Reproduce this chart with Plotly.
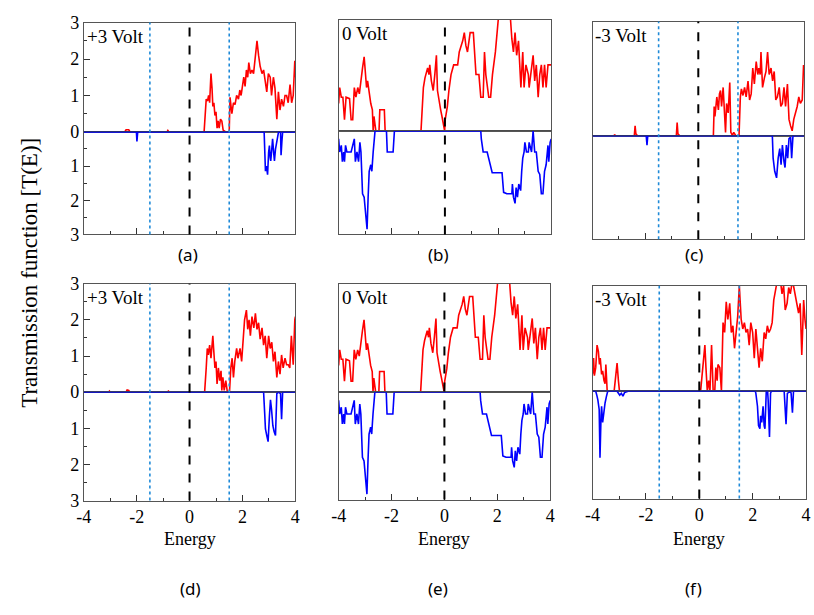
import plotly.graph_objects as go

# ---------------- data (energy, T) pairs ----------------
a_red = [(-4,0),(-2.45,0),(-2.4,0.06),(-2.3,0.06),(-2.25,0),(-0.85,0),(-0.82,0.04),(-0.78,0),(0.55,0),
         (0.6,0.5),(0.63,0.9),(0.68,0.85),(0.72,1.0),(0.76,0.8),(0.81,1.6),(0.85,1.2),(0.88,0.7),(0.92,0.8),
         (0.96,0.45),(1.0,0.55),(1.04,0.1),(1.08,0.3),(1.12,0.1),(1.17,0.35),(1.22,0.3),(1.27,0.05),(1.37,0),
         (1.5,0),(1.53,0.95),(1.6,0.5),(1.66,0.8),(1.72,0.75),(1.78,1.0),(1.85,0.9),(1.9,1.15),(1.95,1.0),
         (2.0,1.3),(2.05,1.5),(2.1,1.25),(2.15,1.7),(2.2,1.5),(2.24,1.9),(2.3,1.6),(2.36,1.7),(2.42,1.6),
         (2.49,2.0),(2.55,2.5),(2.61,2.1),(2.67,1.8),(2.74,1.6),(2.8,1.7),(2.86,1.4),(2.92,1.1),(2.98,1.6),
         (3.05,1.5),(3.1,1.0),(3.17,1.5),(3.23,1.2),(3.3,0.35),(3.36,1.1),(3.42,0.6),(3.48,0.9),(3.55,0.7),
         (3.61,1.0),(3.67,1.0),(3.73,0.8),(3.8,1.3),(3.86,0.8),(3.92,1.0),(3.98,1.95),(4.0,1.5)]
a_blue = [(-4,0),(-2.01,0),(-1.99,0.28),(-1.96,0),(2.82,0),(2.84,0.9),(2.87,1.15),(2.91,1.0),(2.95,1.25),
          (2.99,0.6),(3.02,0.4),(3.05,0.75),(3.07,0.85),(3.11,0.5),(3.14,0.2),(3.18,0.6),(3.21,0.85),
          (3.25,0.5),(3.3,0.3),(3.36,0.02),(3.44,0),(3.46,0.68),(3.49,0.3),(3.52,0),(4,0)]

b_red = [(-4,0.74),(-3.96,1.17),(-3.9,0.91),(-3.84,0.91),(-3.78,0.3),(-3.72,0.91),(-3.59,0.87),(-3.53,0.3),
         (-3.47,0.3),(-3.41,1.17),(-3.35,0.91),(-3.28,1.17),(-3.22,1.0),(-3.16,1.43),(-3.1,1.7),(-3.04,2.0),
         (-3.0,1.52),(-2.95,1.17),(-2.91,1.35),(-2.85,1.0),(-2.79,0.74),(-2.73,0.57),(-2.7,0),(-2.67,0.39),
         (-2.6,0),(-2.48,0),(-2.45,0.57),(-2.28,0.57),(-2.25,0),(-0.9,0),(-0.81,1.17),(-0.75,1.43),
         (-0.65,1.7),(-0.6,1.52),(-0.57,1.78),(-0.51,1.35),(-0.44,1.09),(-0.38,1.52),(-0.32,2.04),
         (-0.28,1.09),(-0.23,0.83),(-0.16,0.57),(-0.11,0.39),(-0.04,0.13),(-0.01,0),(0.01,0.3),(0.09,0.65),
         (0.15,1.09),(0.23,1.52),(0.33,1.78),(0.48,1.78),(0.54,2.13),(0.67,2.43),(0.73,2.65),(0.79,2.3),
         (0.85,2.13),(0.95,2.65),(1.07,2.65),(1.12,2.13),(1.17,1.52),(1.28,1.52),(1.35,0.91),(1.44,0.91),
         (1.49,2.13),(1.54,1.52),(1.59,1.26),(1.65,0.91),(1.72,0.91),(1.79,1.52),(1.9,2.13),(1.96,2.65),
         (2.02,3.1),(2.15,3.3),(2.27,3.0),(2.33,3.1),(2.46,3.1),(2.52,2.48),(2.58,2.13),(2.64,2.65),
         (2.7,2.04),(2.77,2.43),(2.83,1.78),(2.86,1.17),(2.93,2.13),(2.98,1.17),(3.05,1.78),(3.14,1.52),
         (3.17,1.17),(3.26,1.78),(3.32,2.04),(3.38,1.35),(3.44,1.78),(3.51,0.91),(3.57,1.52),(3.63,1.78),
         (3.69,1.17),(3.75,1.78),(3.81,1.17),(3.88,1.78),(4.0,1.78)]
b_blue = [(-4,0.23),(-3.96,0.61),(-3.9,0.42),(-3.86,0.89),(-3.81,0.61),(-3.78,0.89),(-3.74,0.42),(-3.69,0.61),
          (-3.53,0.61),(-3.41,0.23),(-3.37,0.89),(-3.31,0.61),(-3.25,0.89),(-3.2,0.33),(-3.16,0.61),
          (-3.1,1.82),(-3.04,1.92),(-3.0,2.29),(-2.95,2.66),(-2.93,2.85),(-2.89,1.92),(-2.85,1.17),
          (-2.79,0.98),(-2.75,1.17),(-2.7,0.61),(-2.67,0.42),(-2.63,0),(-2.2,0),(-2.17,0.61),(-1.95,0.61),
          (-1.9,0),(1.35,0),(1.37,0.23),(1.44,0.61),(1.59,0.61),(1.78,1.21),(2.15,1.21),(2.21,1.78),
          (2.33,1.82),(2.52,1.82),(2.54,1.54),(2.58,1.92),(2.64,2.1),(2.68,1.64),(2.73,1.92),(2.78,1.54),
          (2.85,1.73),(2.89,1.17),(2.93,0.79),(2.98,0.61),(3.01,0.33),(3.07,0.61),(3.14,0.61),(3.17,0.33),
          (3.26,0.61),(3.32,0),(3.38,0.61),(3.44,0.61),(3.51,1.17),(3.57,1.26),(3.63,1.82),(3.69,1.82),
          (3.75,1.17),(3.81,0.98),(3.88,0.42),(3.91,0.89),(3.96,0.33),(4.0,0.23)]

c_red = [(-4,0),(-3.2,0),(-3.16,0.02),(-3.12,0),(-2.42,0),(-2.39,0.26),(-2.36,0.05),(-2.3,0),(-0.83,0),
         (-0.8,0.35),(-0.77,0.05),(-0.7,0),(0.57,0),(0.6,0.77),(0.63,0.51),(0.7,1.02),(0.76,0.68),(0.8,1.1),
         (0.84,1.19),(0.88,0.77),(0.94,1.27),(0.98,0.51),(1.03,0.09),(1.07,0.85),(1.13,0.6),(1.19,1.4),
         (1.23,0.09),(1.29,0.01),(1.34,0.09),(1.42,0),(1.54,0),(1.59,1.02),(1.63,1.23),(1.69,1.06),
         (1.75,1.27),(1.81,1.02),(1.88,1.44),(1.94,0.94),(2.0,1.1),(2.06,1.78),(2.12,1.36),(2.19,1.95),
         (2.25,1.61),(2.29,1.78),(2.34,1.61),(2.37,2.2),(2.43,1.27),(2.5,1.52),(2.56,1.69),(2.62,2.2),
         (2.68,1.61),(2.75,1.78),(2.81,1.44),(2.87,1.69),(2.93,0.94),(2.99,1.02),(3.06,1.27),(3.12,0.77),
         (3.18,0.85),(3.24,1.27),(3.3,0.77),(3.37,1.36),(3.43,0.43),(3.49,0.26),(3.55,0.13),(3.61,0.43),
         (3.68,0.6),(3.74,0.77),(3.8,1.02),(3.86,0.85),(3.93,0.94),(3.98,1.86),(4.0,1.61)]
c_blue = [(-4,0),(-1.97,0),(-1.94,0.27),(-1.91,0),(2.8,0),(2.83,0.65),(2.89,1.03),(2.96,1.22),(3.02,0.65),
          (3.08,0.37),(3.13,0.84),(3.18,0.27),(3.24,0.75),(3.28,0.92),(3.33,0.27),(3.38,0.65),(3.43,0.08),
          (3.49,0.04),(3.53,0.65),(3.58,0),(4,0)]

d_red = [(-4,0),(-3.06,0),(-3.03,0.03),(-3.0,0),(-2.4,0),(-2.36,0.06),(-2.3,0.05),(-2.26,0),(-0.84,0),
         (-0.8,0.03),(-0.76,0),(0.57,0),(0.63,0.67),(0.67,1.21),(0.71,1.03),(0.76,1.3),(0.81,0.94),
         (0.88,1.56),(0.91,1.21),(0.96,0.67),(1.0,0.85),(1.04,0.23),(1.09,0.67),(1.14,0.32),(1.19,0.59),
         (1.22,0.05),(1.26,0.41),(1.31,0.05),(1.37,0.32),(1.43,0),(1.51,0),(1.56,0.67),(1.61,0.94),
         (1.66,0.41),(1.71,0.85),(1.78,1.21),(1.83,0.94),(1.91,1.21),(1.97,0.85),(2.03,1.56),(2.08,2.0),
         (2.15,2.27),(2.2,1.74),(2.25,2.0),(2.3,1.56),(2.36,2.09),(2.43,1.78),(2.49,2.18),(2.55,1.74),
         (2.61,1.92),(2.67,1.47),(2.74,1.78),(2.8,1.3),(2.86,1.56),(2.92,0.94),(2.99,1.56),(3.05,1.21),
         (3.11,1.38),(3.17,0.85),(3.23,1.12),(3.3,0.41),(3.36,0.85),(3.42,0.5),(3.48,1.03),(3.54,0.67),
         (3.61,0.94),(3.67,0.76),(3.73,0.76),(3.79,0.67),(3.85,1.56),(3.92,0.76),(3.98,2.0),(4.0,2.09)]
d_blue = [(-4,0),(2.8,0),(2.84,0.57),(2.87,1.02),(2.92,1.2),(2.97,1.37),(3.02,0.66),(3.06,0.21),(3.1,0.48),
          (3.15,0.93),(3.2,1.1),(3.25,1.2),(3.3,0.04),(3.36,0),(3.44,0.04),(3.48,0.75),(3.52,0),(4,0)]

e_red = list(b_red)
e_blue = list(b_blue)

f_red = [(-4,0.48),(-3.96,0.94),(-3.93,0.44),(-3.88,0.67),(-3.83,1.31),(-3.78,1.13),(-3.74,0.76),
         (-3.71,0.94),(-3.66,0.48),(-3.62,0.58),(-3.57,0.3),(-3.53,0.21),(-3.5,0.76),(-3.45,0),(-3.19,0),
         (-3.14,0.39),(-3.08,0.8),(-3.03,0.3),(-2.99,0),(0.05,0),(0.09,0.39),(0.15,0.85),(0.21,1.31),
         (0.25,0.67),(0.3,0),(0.35,0.3),(0.4,0),(0.46,1.31),(0.52,0),(0.58,0),(0.62,0.67),(0.67,0.3),
         (0.7,0.76),(0.77,0.67),(0.83,0),(0.89,1.95),(0.95,1.67),(1.01,2.54),(1.07,2.04),(1.14,2.5),
         (1.2,1.67),(1.26,1.86),(1.32,1.22),(1.38,1.67),(1.44,2.13),(1.5,3.0),(1.57,2.04),(1.63,1.77),
         (1.69,1.95),(1.75,1.67),(1.81,1.77),(1.87,1.31),(1.93,1.95),(2.0,1.67),(2.06,0.94),(2.12,1.77),
         (2.18,1.31),(2.24,0.67),(2.3,1.22),(2.36,0.85),(2.43,1.67),(2.49,1.49),(2.55,1.86),(2.61,1.67),
         (2.67,1.77),(2.73,1.95),(2.79,2.59),(2.86,3.0),(2.92,3.14),(3.04,3.14),(3.1,2.77),(3.16,3.0),
         (3.22,2.31),(3.29,2.5),(3.35,2.95),(3.41,2.77),(3.47,3.05),(3.53,3.0),(3.59,2.77),(3.65,2.5),
         (3.72,2.22),(3.78,2.5),(3.84,1.03),(3.87,1.67),(3.91,2.59),(3.96,2.04),(4.0,1.77)]
f_blue = [(-4,0),(-3.88,0),(-3.84,0.11),(-3.8,0.24),(-3.75,0.51),(-3.72,1.86),(-3.68,0.69),(-3.66,0.42),
          (-3.62,0.87),(-3.58,0.6),(-3.53,0.33),(-3.48,0.15),(-3.43,0),(-3.08,0),(-3.04,0.06),(-2.98,0.11),
          (-2.92,0.06),(-2.86,0.14),(-2.8,0.04),(-2.67,0),(2.1,0),(2.12,0.06),(2.18,0.42),(2.22,0.96),
          (2.27,1.05),(2.3,0.69),(2.34,0.87),(2.39,0.42),(2.43,0.96),(2.46,1.05),(2.51,0),(2.56,0),
          (2.58,0.24),(2.63,1.28),(2.67,0.06),(2.7,0),(3.18,0),(3.2,0.24),(3.25,0.92),(3.3,0.06),(3.42,0),
          (3.44,0.06),(3.49,0.6),(3.53,0),(4,0)]

voltage_labels = ["+3 Volt", "0 Volt", "-3 Volt", "+3 Volt", "0 Volt", "-3 Volt"]
panel_letters = ["(a)", "(b)", "(c)", "(d)", "(e)", "(f)"]
fermi_level = 0
bias_window = [-1.5, 1.5]
energy_range = [-4, 4]
t_range = [0, 3]
x_tickvals = [-4, -2, 0, 2, 4]
x_ticktext = ["-4", "-2", "0", "2", "4"]
y_tickvals_up = [0, 1, 2, 3]
y_tickvals_dn = [1, 2, 3]

# ---------------- layout geometry (pixels) ----------------
W, H = 814, 615
# left, right, top, zero, bottom
boxes = [(77, 292, 13, 126, 232), (336, 552, 10, 125, 232), (594, 809, 12, 130, 237),
         (77, 292, 283, 395, 507), (336, 551, 283, 395, 506), (594, 811, 285, 394, 505)]
reds = [a_red, b_red, c_red, d_red, e_red, f_red]
blues = [a_blue, b_blue, c_blue, d_blue, e_blue, f_blue]
has_bias = [True, False, True, True, False, True]
letter_pos = [(183, 253), (437, 253), (697, 253), (185, 598), (437, 598), (697, 598)]

SERIF = "Liberation Serif, Times New Roman, Times, serif"
FRAME = "#555555"

def px2x(p): return p / W
def px2y(p): return 1 - p / H

fig = go.Figure()
layout = dict(width=W, height=H, margin=dict(l=0, r=0, t=0, b=0),
              paper_bgcolor="white", plot_bgcolor="white", showlegend=False)
shapes, annotations = [], []

for i in range(6):
    L, R, T, Z, B = boxes[i]
    u, d = 2 * i + 1, 2 * i + 2
    xu = "x" if u == 1 else f"x{u}"
    yu = "y" if u == 1 else f"y{u}"
    xd, yd = f"x{d}", f"y{d}"
    kxu = "xaxis" if u == 1 else f"xaxis{u}"
    kyu = "yaxis" if u == 1 else f"yaxis{u}"
    kxd, kyd = f"xaxis{d}", f"yaxis{d}"
    left_col = i in (0, 3)
    bottom_row = i >= 3

    rx = [p[0] for p in reds[i]]; ry = [p[1] for p in reds[i]]
    bx = [p[0] for p in blues[i]]; by = [p[1] for p in blues[i]]
    fig.add_trace(go.Scatter(x=rx, y=ry, mode="lines", line=dict(color="#ff0000", width=1.6),
                             xaxis=xu, yaxis=yu))
    fig.add_trace(go.Scatter(x=bx, y=by, mode="lines", line=dict(color="#0000ff", width=1.6),
                             xaxis=xd, yaxis=yd))

    common_x = dict(domain=[px2x(L), px2x(R)], range=energy_range, showgrid=False, zeroline=False,
                    showline=True, mirror=True, linecolor=FRAME, linewidth=1)
    layout[kxu] = dict(common_x, anchor=yu, ticks="", showticklabels=False)
    layout[kxd] = dict(common_x, anchor=yd, ticks="inside", ticklen=6, tickcolor="#333",
                       tickmode="array", tickvals=x_tickvals, ticktext=x_ticktext,
                       showticklabels=bottom_row,
                       tickfont=dict(family=SERIF, size=18, color="black"),
                       minor=dict(ticks="inside", ticklen=3, tickcolor="#333",
                                  tickmode="array", tickvals=[-3, -1, 1, 3]))
    common_y = dict(showgrid=False, zeroline=False, showline=True, mirror=True,
                    linecolor=FRAME, linewidth=1,
                    tickfont=dict(family=SERIF, size=18, color="black"))
    if left_col:
        yt_u = dict(ticks="inside", ticklen=6, tickcolor="#333", tickmode="array",
                    tickvals=y_tickvals_up, showticklabels=True,
                    minor=dict(ticks="inside", ticklen=3, tickcolor="#333", tickmode="array",
                               tickvals=[0.5, 1.5, 2.5]))
        yt_d = dict(ticks="inside", ticklen=6, tickcolor="#333", tickmode="array",
                    tickvals=y_tickvals_dn, showticklabels=True,
                    minor=dict(ticks="inside", ticklen=3, tickcolor="#333", tickmode="array",
                               tickvals=[0.5, 1.5, 2.5]))
    else:
        yt_u = dict(ticks="", showticklabels=False)
        yt_d = dict(ticks="", showticklabels=False)
    layout[kyu] = dict(common_y, domain=[px2y(Z), px2y(T)], range=t_range, anchor=xu, **yt_u)
    layout[kyd] = dict(common_y, domain=[px2y(B), px2y(Z)], range=[t_range[1], t_range[0]],
                       anchor=xd, **yt_d)

    # zero line
    zc = "#1a237e" if has_bias[i] else "#444444"
    shapes.append(dict(type="line", xref=f"{xu} domain", x0=0, x1=1, yref=yu, y0=0, y1=0,
                       line=dict(color=zc, width=1.5 if has_bias[i] else 1)))
    # Fermi level dashed
    shapes.append(dict(type="line", xref=xd, x0=fermi_level, x1=fermi_level, yref="paper",
                       y0=px2y(B), y1=px2y(T), line=dict(color="black", width=2, dash="dash")))
    if has_bias[i]:
        for bw in bias_window:
            shapes.append(dict(type="line", xref=xd, x0=bw, x1=bw, yref="paper",
                               y0=px2y(B), y1=px2y(T),
                               line=dict(color="#1f8ad8", width=1.6, dash="dot")))
    # voltage label
    annotations.append(dict(text=voltage_labels[i], xref="paper", yref="paper",
                            x=px2x(L + 1), y=px2y(T + 1), xanchor="left", yanchor="top",
                            showarrow=False, font=dict(family=SERIF, size=19, color="black")))
    # panel letter
    lx, ly = letter_pos[i]
    annotations.append(dict(text=panel_letters[i], xref="paper", yref="paper",
                            x=px2x(lx), y=px2y(ly), xanchor="center", yanchor="middle",
                            showarrow=False, font=dict(family="Noto Sans", size=17, color="black")))
    if bottom_row:
        annotations.append(dict(text="Energy", xref="paper", yref="paper",
                                x=px2x((L + R) / 2), y=px2y(547), xanchor="center", yanchor="middle",
                                showarrow=False, font=dict(family=SERIF, size=18, color="black")))

annotations.append(dict(text="Transmission function [T(E)]", xref="paper", yref="paper",
                        x=px2x(21), y=px2y(272), xanchor="center", yanchor="middle", textangle=-90,
                        showarrow=False, font=dict(family=SERIF, size=23, color="black")))

layout["shapes"] = shapes
layout["annotations"] = annotations
fig.update_layout(**layout)
fig.write_html("out.html")
